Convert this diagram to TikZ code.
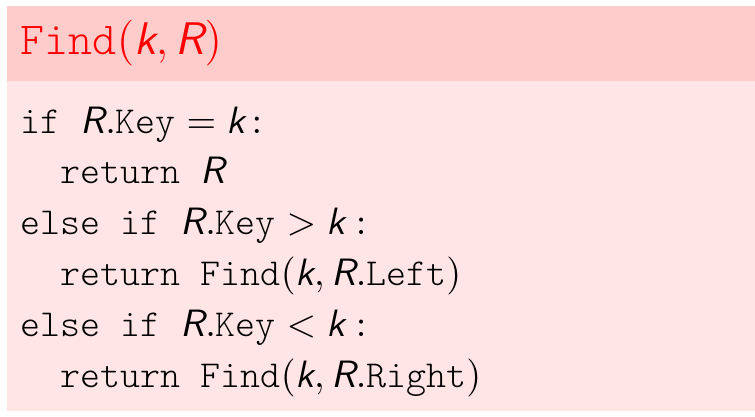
\documentclass[tikz,border=0pt]{standalone}
\usepackage{amsmath,amssymb}
\usepackage{xcolor}
\usepackage{tikz}
\usetikzlibrary{positioning}
\newcommand{\Rv}{\textsf{\mdseries\slshape R}}
\newcommand{\kv}{\textsf{\mdseries\slshape k}}
\newcommand{\fld}[1]{\texttt{#1}}
\tikzset{
  codeline/.style={anchor=base west,inner sep=0pt,font=\ttfamily\fontseries{l}\fontsize{10}{12}\selectfont},
  headline/.style={anchor=base west,inner sep=0pt,text=red,font=\ttfamily\fontseries{l}\fontsize{12}{14}\selectfont}
}
\begin{document}
\begin{tikzpicture}[x=0.2625pt,y=-0.2625pt]
\useasboundingbox (0,0) rectangle (755,416);
\coordinate (O) at (7,6);

\fill[red!20] (O) rectangle (755,81);
\fill[red!10] (7,81) rectangle (755,411);

\node[headline] (title) at (20,55) {Find$(\kv,\Rv)$};
\foreach \txt [count=\i] in {
  {if $\Rv.\fld{Key} = \kv\,{:}$},
  {\ \ return \Rv},
  {else if $\Rv.\fld{Key} > \kv :$},
  {\ \ return Find$(\kv,\Rv.\fld{Left})$},
  {else if $\Rv.\fld{Key} < \kv :$},
  {\ \ return Find$(\kv,\Rv.\fld{Right})$}}
  \node[codeline] (line\i) at (20,{133+50.8*(\i-1)}) {\txt};

\end{tikzpicture}
\end{document}
